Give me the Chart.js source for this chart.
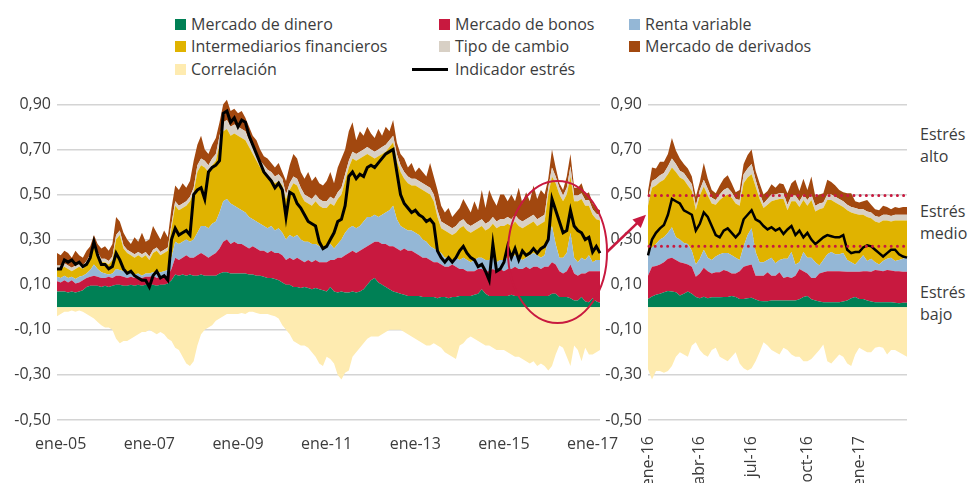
<!DOCTYPE html>
<html>
<head>
<meta charset="utf-8">
<script src="https://cdn.jsdelivr.net/npm/chart.js@4.4.0/dist/chart.umd.min.js"></script>
<style>
body { margin: 0; background: #fff; font-family: 'Open Sans', sans-serif; color: #3c3c3c; }
#wrap { position: relative; width: 968px; height: 483px; overflow: hidden; }
canvas { position: absolute; top: 0; }
#left { left: 0; }
#right { left: 600px; }
#ov { left: 0; pointer-events: none; }
.lg { position: absolute; font-size: 16px; line-height: 22px; white-space: nowrap; }
.lg i { position: absolute; left: -16px; top: 6px; width: 11px; height: 11px; }
.lg b { position: absolute; left: -43px; top: 10px; width: 36px; height: 3px; background: #000; }
.lvl { position: absolute; left: 920px; font-size: 16px; line-height: 22px; }
</style>
</head>
<body>
<div id="wrap">
  <div class="lg" style="left:191px;top:13px"><i style="background:#008055"></i>Mercado de dinero</div>
  <div class="lg" style="left:455px;top:13px"><i style="background:#c8193f"></i>Mercado de bonos</div>
  <div class="lg" style="left:645px;top:13px"><i style="background:#94b7d6"></i>Renta variable</div>
  <div class="lg" style="left:191px;top:35px"><i style="background:#e0b300"></i>Intermediarios financieros</div>
  <div class="lg" style="left:455px;top:35px"><i style="background:#d8d0c5"></i>Tipo de cambio</div>
  <div class="lg" style="left:645px;top:35px"><i style="background:#a2480f"></i>Mercado de derivados</div>
  <div class="lg" style="left:191px;top:58px"><i style="background:#feebb0"></i>Correlación</div>
  <div class="lg" style="left:455px;top:58px"><b></b>Indicador estrés</div>

  <div class="lvl" style="top:123px">Estrés<br>alto</div>
  <div class="lvl" style="top:200px">Estrés<br>medio</div>
  <div class="lvl" style="top:281px">Estrés<br>bajo</div>

  <canvas id="left" width="620" height="483"></canvas>
  <canvas id="right" width="368" height="483"></canvas>
  <canvas id="ov" width="968" height="483"></canvas>
</div>
<script>
// ---- data, left panel: monthly, dic-04 .. mar-17 ----
var green = [.07,
  .07,.07,.065,.07,.065,.07,.075,.09,.095,.095,.095,.09,
  .095,.09,.095,.1,.1,.095,.095,.1,.095,.1,.095,.1,
  .1,.1,.095,.1,.1,.105,.12,.145,.14,.145,.14,.145,
  .14,.14,.145,.14,.14,.14,.14,.15,.155,.155,.15,.15,
  .15,.15,.15,.145,.145,.14,.14,.135,.13,.13,.125,.12,
  .11,.1,.1,.09,.09,.085,.09,.085,.08,.085,.08,.075,
  .07,.09,.07,.065,.07,.065,.065,.07,.065,.07,.08,.1,
  .12,.13,.11,.1,.09,.08,.07,.065,.06,.055,.05,.05,
  .05,.05,.045,.045,.045,.045,.04,.045,.045,.04,.045,.045,
  .05,.05,.05,.05,.055,.06,.08,.06,.05,.05,.05,.05,
  .05,.05,.055,.05,.05,.05,.05,.05,.05,.05,.05,.05,
  .05,.06,.06,.045,.045,.045,.04,.03,.03,.045,.025,.022,
  .04,.025,.02];
var bonds = [.045,
  .04,.05,.045,.05,.04,.04,.045,.04,.04,.045,.04,.04,
  .035,.045,.035,.04,.04,.04,.035,.035,.035,.035,.035,.035,
  .035,.04,.035,.035,.04,.035,.05,.075,.07,.075,.09,.075,
  .08,.09,.095,.09,.08,.09,.1,.11,.135,.145,.13,.14,
  .13,.13,.12,.115,.125,.12,.11,.115,.11,.12,.115,.12,
  .12,.11,.12,.12,.13,.125,.11,.125,.12,.125,.12,.125,
  .13,.12,.14,.155,.15,.165,.175,.18,.175,.18,.18,.17,
  .16,.16,.18,.18,.19,.19,.2,.195,.19,.205,.2,.2,
  .19,.18,.175,.175,.165,.155,.16,.145,.135,.14,.145,.135,
  .12,.12,.11,.11,.105,.11,.09,.1,.11,.12,.11,.12,
  .11,.12,.115,.13,.12,.12,.13,.12,.13,.13,.12,.13,
  .13,.14,.13,.115,.105,.115,.15,.12,.11,.105,.125,.138,
  .12,.135,.14];
var equity = [.02,
  .02,.02,.02,.015,.02,.025,.02,.02,.03,.05,.035,.025,
  .02,.01,.02,.03,.025,.025,.025,.015,.015,.015,.01,.015,
  .015,.015,.02,.02,.02,.025,.05,.07,.07,.07,.07,.07,
  .08,.1,.12,.13,.13,.14,.14,.16,.18,.18,.18,.16,
  .16,.15,.15,.14,.12,.12,.12,.11,.11,.11,.1,.11,
  .1,.09,.1,.1,.1,.09,.09,.08,.08,.07,.07,.06,
  .07,.07,.05,.06,.08,.1,.11,.11,.11,.11,.12,.13,
  .12,.12,.11,.13,.14,.16,.18,.13,.11,.09,.09,.09,
  .09,.09,.08,.07,.06,.06,.05,.05,.04,.04,.02,.04,
  .04,.05,.05,.04,.05,.05,.05,.05,.05,.05,.04,.04,
  .05,.05,.05,.05,.05,.04,.04,.06,.06,.05,.05,.05,
  .12,.16,.09,.06,.07,.08,.14,.07,.06,.07,.06,.07,
  .04,.05,.05];
var banks = [.035,
  .04,.04,.04,.025,.045,.045,.03,.04,.055,.08,.06,.045,
  .05,.045,.06,.13,.155,.1,.085,.08,.075,.08,.08,.08,
  .06,.085,.1,.075,.08,.085,.13,.16,.15,.15,.15,.18,
  .21,.27,.27,.26,.25,.26,.27,.3,.31,.31,.3,.32,
  .32,.32,.32,.31,.29,.27,.25,.24,.23,.21,.21,.21,
  .21,.18,.2,.24,.22,.2,.18,.17,.17,.19,.18,.18,
  .17,.18,.19,.2,.2,.23,.27,.3,.3,.3,.29,.28,
  .27,.25,.27,.27,.27,.28,.28,.26,.24,.22,.21,.2,
  .21,.21,.22,.22,.23,.21,.15,.11,.12,.11,.11,.11,
  .14,.14,.13,.13,.13,.13,.14,.13,.14,.15,.15,.15,
  .15,.15,.14,.15,.14,.14,.14,.14,.14,.13,.15,.15,
  .2,.22,.27,.28,.25,.26,.25,.25,.27,.26,.24,.22,
  .21,.18,.175];
var fx = [.015,
  .015,.015,.015,.015,.015,.015,.015,.015,.015,.015,.015,.015,
  .015,.015,.015,.02,.02,.015,.015,.015,.015,.015,.015,.015,
  .015,.015,.015,.015,.015,.015,.02,.02,.02,.02,.02,.02,
  .02,.03,.03,.03,.03,.03,.03,.04,.04,.04,.04,.04,
  .04,.04,.04,.03,.03,.03,.03,.03,.03,.03,.03,.03,
  .03,.02,.03,.03,.03,.03,.03,.03,.03,.03,.03,.03,
  .03,.03,.03,.03,.03,.03,.03,.03,.03,.03,.03,.03,
  .03,.03,.03,.03,.03,.03,.03,.03,.03,.03,.03,.03,
  .03,.03,.03,.03,.03,.03,.03,.03,.03,.03,.03,.03,
  .03,.03,.03,.03,.03,.03,.03,.03,.03,.03,.03,.03,
  .03,.03,.03,.03,.03,.03,.03,.03,.03,.03,.03,.03,
  .03,.04,.03,.03,.025,.03,.045,.025,.025,.025,.025,.025,
  .025,.025,.025];
var derivs = [.055,
  .045,.055,.055,.045,.065,.035,.035,.045,.035,.035,.035,.045,
  .055,.045,.055,.08,.04,.055,.045,.035,.075,.045,.095,.045,
  .075,.105,.065,.055,.085,.045,.07,.07,.07,.09,.06,.07,
  .12,.09,.1,.05,.05,.06,.07,.06,.08,.09,.07,.07,
  .06,.08,.06,.06,.05,.06,.05,.04,.05,.04,.04,.05,
  .03,.06,.08,.1,.09,.07,.07,.11,.08,.08,.07,.07,
  .09,.11,.07,.11,.13,.11,.13,.13,.06,.09,.06,.09,
  .07,.06,.09,.05,.08,.04,.07,.05,.05,.06,.04,.07,
  .03,.06,.05,.04,.11,.08,.09,.07,.05,.08,.05,.06,
  .06,.09,.08,.06,.1,.05,.13,.07,.14,.08,.07,.11,
  .11,.07,.11,.06,.14,.08,.12,.07,.13,.09,.12,.09,
  .04,.08,.04,.02,.025,.05,.055,.035,.035,.045,.025,.035,
  .025,.025,.02];
var corr = [-.04,
  -.03,-.02,-.02,-.015,-.02,-.015,-.02,-.03,-.04,-.05,-.065,-.08,
  -.09,-.09,-.1,-.14,-.16,-.15,-.15,-.14,-.13,-.12,-.11,-.11,
  -.1,-.11,-.12,-.11,-.12,-.14,-.15,-.18,-.19,-.22,-.25,-.26,
  -.24,-.17,-.12,-.1,-.09,-.08,-.06,-.05,-.04,-.03,-.03,-.03,
  -.03,-.025,-.03,-.02,-.02,-.025,-.03,-.03,-.03,-.035,-.04,-.05,
  -.08,-.1,-.12,-.15,-.16,-.17,-.17,-.18,-.2,-.22,-.25,-.26,
  -.22,-.23,-.25,-.3,-.32,-.29,-.28,-.22,-.2,-.18,-.16,-.14,
  -.13,-.13,-.13,-.12,-.11,-.1,-.1,-.1,-.1,-.11,-.12,-.13,
  -.14,-.15,-.16,-.17,-.17,-.16,-.17,-.18,-.2,-.21,-.22,-.23,
  -.17,-.16,-.14,-.13,-.14,-.15,-.16,-.17,-.17,-.18,-.19,-.19,
  -.19,-.2,-.21,-.22,-.22,-.23,-.24,-.25,-.24,-.26,-.25,-.26,
  -.28,-.26,-.21,-.17,-.18,-.22,-.26,-.17,-.19,-.24,-.18,-.21,
  -.21,-.2,-.19];
var stress = [.17,
  .17,.21,.2,.21,.19,.2,.18,.19,.22,.29,.23,.19,
  .19,.17,.18,.24,.21,.17,.15,.16,.14,.13,.12,.12,
  .09,.14,.16,.13,.14,.12,.3,.35,.32,.33,.34,.32,
  .5,.52,.53,.48,.6,.62,.63,.65,.86,.87,.82,.84,
  .8,.83,.82,.76,.72,.68,.64,.6,.58,.56,.53,.55,
  .52,.4,.51,.5,.46,.44,.41,.38,.37,.36,.29,.26,
  .27,.3,.33,.38,.39,.45,.58,.6,.57,.59,.58,.62,
  .63,.62,.64,.66,.68,.69,.7,.6,.5,.46,.44,.42,
  .43,.41,.4,.38,.39,.37,.25,.22,.2,.22,.2,.22,
  .25,.27,.24,.22,.21,.18,.19,.16,.12,.28,.16,.17,
  .2,.27,.22,.26,.21,.25,.23,.24,.26,.24,.26,.27,
  .3,.48,.43,.38,.33,.34,.43,.36,.34,.33,.3,.31,
  .245,.27,.24];

// ---- data, right panel: weekly from 1-ene-16 ----
var wGreen = [.036,.048,.055,.06,.066,.072,.07,.066,.052,.06,
  .07,.06,.045,.04,.047,.04,.044,.044,.044,.045,
  .045,.05,.045,.036,.037,.04,.042,.034,.028,.027,
  .027,.03,.03,.03,.03,.03,.03,.03,.035,.045,
  .05,.035,.03,.025,.022,.022,.022,.022,.022,.025,
  .03,.04,.045,.036,.036,.03,.025,.022,.022,.022,
  .022,.022,.02,.018,.02,.02];
var wBonds = [.104,.132,.128,.13,.134,.143,.15,.144,.148,.135,
  .12,.12,.09,.11,.128,.12,.106,.111,.111,.12,
  .115,.1,.105,.124,.143,.145,.148,.106,.112,.113,
  .128,.11,.11,.125,.1,.105,.1,.11,.135,.115,
  .1,.095,.1,.125,.133,.138,.138,.138,.138,.133,
  .127,.117,.112,.121,.124,.13,.132,.143,.141,.138,
  .143,.141,.14,.142,.137,.137];
var wEquity = [.105,.085,.097,.11,.11,.115,.135,.1,.1,.09,
  .09,.07,.055,.065,.08,.06,.06,.07,.08,.075,
  .08,.08,.07,.05,.09,.135,.16,.105,.06,.06,
  .055,.08,.055,.055,.085,.08,.115,.05,.03,.085,
  .07,.09,.07,.035,.055,.075,.085,.075,.075,.082,
  .053,.043,.033,.053,.07,.045,.058,.035,.027,.045,
  .05,.057,.045,.05,.058,.063];
var wBanks = [.205,.265,.26,.255,.255,.26,.265,.29,.275,.28,
  .26,.265,.24,.28,.28,.275,.25,.23,.24,.25,
  .26,.255,.24,.24,.28,.255,.24,.29,.28,.24,
  .245,.25,.28,.27,.265,.215,.225,.28,.245,.23,
  .23,.255,.225,.25,.23,.24,.23,.23,.22,.205,
  .22,.22,.225,.2,.18,.195,.18,.18,.185,.18,
  .17,.16,.18,.175,.17,.165];
var wFx = [.03,.03,.03,.03,.03,.035,.04,.035,.03,.03,
  .03,.03,.02,.025,.03,.03,.025,.02,.025,.03,
  .03,.025,.02,.025,.04,.04,.045,.03,.025,.02,
  .025,.03,.025,.025,.025,.025,.025,.025,.025,.025,
  .025,.025,.025,.025,.025,.025,.025,.025,.025,.025,
  .025,.025,.025,.025,.025,.025,.025,.025,.025,.025,
  .025,.025,.025,.025,.025,.025];
var wDerivs = [.035,.06,.045,.06,.05,.055,.09,.06,.055,.04,
  .045,.035,.04,.035,.075,.045,.035,.03,.04,.05,
  .055,.04,.03,.045,.045,.06,.065,.04,.045,.04,
  .035,.045,.03,.045,.04,.05,.055,.07,.045,.07,
  .045,.08,.04,.04,.04,.065,.055,.05,.04,.04,
  .05,.06,.03,.03,.035,.05,.035,.03,.03,.04,
  .035,.03,.035,.03,.035,.035];
var wCorr = [-.275,-.32,-.283,-.283,-.29,-.283,-.26,-.22,-.2,-.21,
  -.22,-.17,-.155,-.19,-.21,-.22,-.19,-.18,-.22,-.23,
  -.24,-.22,-.2,-.25,-.27,-.28,-.27,-.24,-.2,-.155,
  -.17,-.19,-.2,-.21,-.18,-.19,-.21,-.22,-.22,-.24,
  -.24,-.23,-.21,-.19,-.165,-.24,-.25,-.23,-.21,-.22,
  -.25,-.26,-.21,-.18,-.19,-.2,-.2,-.18,-.175,-.18,
  -.21,-.19,-.19,-.2,-.21,-.22];
var wStress = [.23,.3,.33,.35,.365,.41,.48,.47,.46,.43,
  .42,.41,.34,.37,.42,.4,.36,.32,.31,.34,
  .35,.33,.31,.33,.39,.41,.43,.39,.38,.36,
  .345,.355,.34,.35,.325,.345,.36,.32,.34,.31,
  .33,.3,.28,.295,.31,.32,.315,.31,.31,.32,
  .255,.24,.245,.245,.265,.275,.27,.255,.24,.225,
  .24,.255,.255,.235,.225,.22];

var yTicks = [-0.5, -0.3, -0.1, 0.1, 0.3, 0.5, 0.7, 0.9];
var stressBands = [0.27, 0.495];   // dotted limits bajo/medio/alto
var monthAbbr = ['ene','feb','mar','abr','may','jun','jul','ago','sep','oct','nov','dic'];

// categories
var months = [];
for (var i = 0; i < green.length; i++) {
  var t = 2004 * 12 + 11 + i;
  months.push(monthAbbr[t % 12] + '-' + String(Math.floor(t / 12) % 100).padStart(2, '0'));
}
var weeks = [];
for (var k = 0; k < wGreen.length; k++) {
  weeks.push(new Date(Date.UTC(2016, 0, 1 + 7 * k)));
}

var colors = {
  green: '#008055', red: '#c8193f', blue: '#94b7d6', yellow: '#e0b300',
  beige: '#d8d0c5', brown: '#a2480f', corr: '#feebb0'
};

Chart.defaults.font.family = "'Open Sans', sans-serif";
Chart.defaults.font.size = 16;
Chart.defaults.color = '#3c3c3c';

function area(data, color, fill, stack) {
  return { data: data, backgroundColor: color, borderWidth: 0, pointRadius: 0,
           fill: fill, stack: stack || 'main', tension: 0 };
}

function buildSets(s, lw) {
  return [
    area(s[6], colors.corr, 'origin', 'corr'),
    area(s[0], colors.green, 'origin'),
    area(s[1], colors.red, '-1'),
    area(s[2], colors.blue, '-1'),
    area(s[3], colors.yellow, '-1'),
    area(s[4], colors.beige, '-1'),
    area(s[5], colors.brown, '-1'),
    { data: s[7], borderColor: '#000', borderWidth: lw, pointRadius: 0, fill: false,
      stack: 'ind', order: -1, tension: 0 }
  ];
}

function yAxis(w) {
  return {
    stacked: true, min: -0.5, max: 0.95,
    afterBuildTicks: function (s) { s.ticks = yTicks.map(function (v) { return { value: v }; }); },
    afterFit: function (s) { s.width = w; },
    ticks: { padding: 6, callback: function (v) { return v.toFixed(2).replace('.', ','); } },
    grid: { color: '#d4d4d4', lineWidth: 1.5, drawTicks: false },
    border: { display: false }
  };
}

var baseOpts = {
  responsive: false, animation: false, events: [],
  plugins: { legend: { display: false }, tooltip: { enabled: false } }
};

var leftChart = new Chart(document.getElementById('left'), {
  type: 'line',
  data: { labels: months,
          datasets: buildSets([green, bonds, equity, banks, fx, derivs, corr, stress], 3) },
  options: Object.assign({}, baseOpts, {
    layout: { padding: { top: 93, right: 20, left: 0, bottom: 0 } },
    scales: {
      x: {
        grid: { display: false }, border: { display: false },
        afterFit: function (s) { s.height = 63; },
        ticks: {
          autoSkip: false, maxRotation: 0, minRotation: 0, padding: 7,
          callback: function (v, i) {
            var lab = months[i];
            var yy = parseInt(lab.slice(4), 10);
            return (lab.indexOf('ene') === 0 && yy % 2 === 1) ? lab : '';
          }
        }
      },
      y: yAxis(57)
    }
  })
});

// dotted stress limits on the zoomed panel
var bandsPlugin = {
  id: 'bands',
  afterDatasetsDraw: function (chart) {
    var ctx = chart.ctx, a = chart.chartArea, y = chart.scales.y;
    ctx.save();
    ctx.strokeStyle = colors.red;
    ctx.lineWidth = 3;
    ctx.lineCap = 'round';
    ctx.setLineDash([0.01, 6.2]);
    stressBands.forEach(function (v) {
      var py = y.getPixelForValue(v);
      ctx.beginPath();
      ctx.moveTo(a.left + 1, py);
      ctx.lineTo(a.right, py);
      ctx.stroke();
    });
    ctx.restore();
  }
};

var rightChart = new Chart(document.getElementById('right'), {
  type: 'line',
  data: { labels: weeks.map(function (d) { return d.toISOString().slice(0, 10); }),
          datasets: buildSets([wGreen, wBonds, wEquity, wBanks, wFx, wDerivs, wCorr, wStress], 2.5) },
  options: Object.assign({}, baseOpts, {
    layout: { padding: { top: 93, right: 61, left: 0, bottom: 0 } },
    scales: {
      x: {
        grid: { display: false }, border: { display: false },
        afterFit: function (s) { s.height = 63; },
        ticks: {
          autoSkip: false, maxRotation: 90, minRotation: 90, padding: 8,
          callback: function (v, i) {
            var d = weeks[i], m = d.getUTCMonth();
            if (d.getUTCDate() <= 7 && m % 3 === 0) {
              return monthAbbr[m] + '-' + String(d.getUTCFullYear() % 100);
            }
            return '';
          }
        }
      },
      y: yAxis(48)
    }
  }),
  plugins: [bandsPlugin]
});

// circle on the main panel and arrow to the zoom
var focus = { month: 'abr-16', shift: -0.5, halfMonths: 13.4, value: 0.245, halfValue: 0.315, arrowTo: 0.41 };

(function drawOverlay() {
  var ctx = document.getElementById('ov').getContext('2d');
  var lx = leftChart.scales.x, ly = leftChart.scales.y;
  var idx = months.indexOf(focus.month) + focus.shift;
  var cx = lx.getPixelForValue(idx);
  var rx = focus.halfMonths * (lx.getPixelForValue(1) - lx.getPixelForValue(0));
  var cy = ly.getPixelForValue(focus.value);
  var ry = ly.getPixelForValue(focus.value - focus.halfValue) - cy;

  ctx.strokeStyle = colors.red;
  ctx.fillStyle = colors.red;
  ctx.lineWidth = 2;
  ctx.beginPath();
  ctx.ellipse(cx, cy, rx, ry, 0, 0, Math.PI * 2);
  ctx.stroke();

  var offX = 600;
  var x0 = cx + rx, y0 = cy;
  var x1 = offX + rightChart.chartArea.left - 2;
  var y1 = rightChart.scales.y.getPixelForValue(focus.arrowTo);
  var ang = Math.atan2(y1 - y0, x1 - x0);
  var head = 13;
  ctx.lineWidth = 2.5;
  ctx.beginPath();
  ctx.moveTo(x0, y0);
  ctx.lineTo(x1 - head * 0.8 * Math.cos(ang), y1 - head * 0.8 * Math.sin(ang));
  ctx.stroke();
  ctx.beginPath();
  ctx.moveTo(x1, y1);
  ctx.lineTo(x1 - head * Math.cos(ang) + 6 * Math.sin(ang), y1 - head * Math.sin(ang) - 6 * Math.cos(ang));
  ctx.lineTo(x1 - head * Math.cos(ang) - 6 * Math.sin(ang), y1 - head * Math.sin(ang) + 6 * Math.cos(ang));
  ctx.closePath();
  ctx.fill();
})();
</script>
</body>
</html>
